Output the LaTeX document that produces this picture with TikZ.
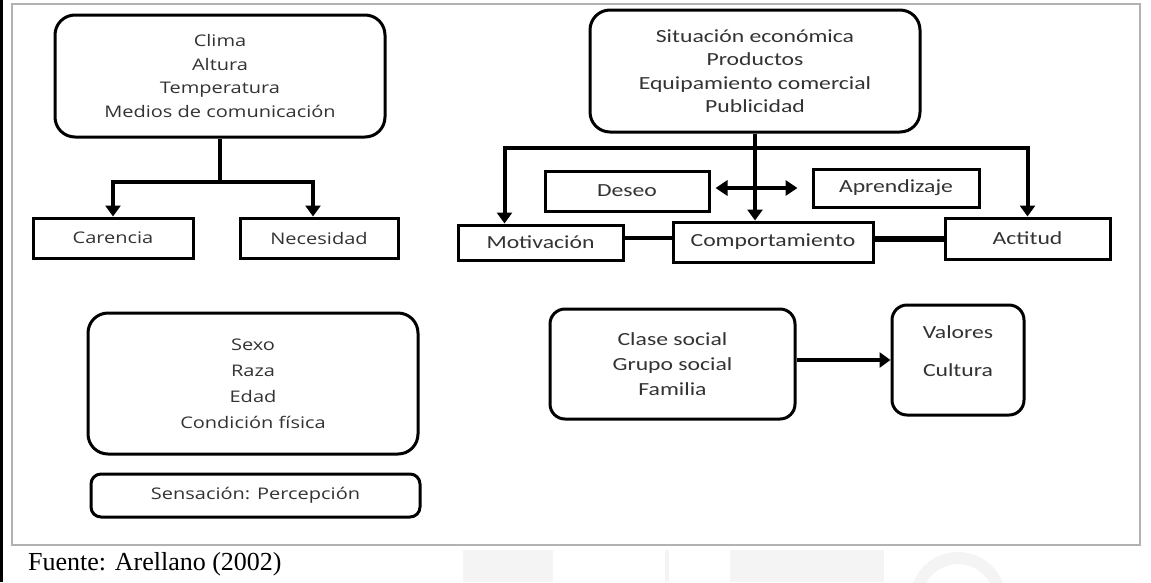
\documentclass[tikz,border=0pt]{standalone}
\usepackage{fontspec}
\setmainfont{Liberation Serif}
\newfontfamily\lfont[FakeStretch=1.25]{Open Sans}
\newfontfamily\rfont[FakeStretch=1.28]{Carlito}
\usetikzlibrary{arrows.meta}

\begin{document}
\begin{tikzpicture}[x=1pt,y=-1pt,
  txt/.style={text=black!80, align=center, inner sep=0pt},
  ltxt/.style={txt, font=\lfont\fontsize{16}{23.5}\selectfont},
  rtxt/.style={txt, font=\rfont\fontsize{18.5}{23.5}\selectfont},
  rbox/.style={draw=black, line width=3pt, rounded corners=20pt},
  sbox/.style={draw=black, line width=3pt},
  conn/.style={line width=4pt, draw=black},
  tip/.style={-{Triangle[width=15pt,length=11pt]}},
  dtip/.style={{Triangle[width=15pt,length=12pt]}-{Triangle[width=15pt,length=12pt]}},
]
\useasboundingbox (0,0) rectangle (1151,582);
\fill[white] (0,0) rectangle (1151,582);

% faint marks below the frame
\fill[gray!9] (463,550) rectangle (553,582);
\fill[gray!9] (665,550) rectangle (669,582);
\fill[gray!9] (730,550) rectangle (884,582);
\draw[gray!9, line width=12pt] (958,600) ellipse [x radius=42pt, y radius=42pt];

% frame
\fill[black] (0,0) rectangle (3,582);
\draw[gray!60, line width=2.5pt] (12,4) rectangle (1140,545);

% left column
\node[rbox, ltxt, minimum width=330pt, minimum height=122pt] (clima) at (220,76)
  {Clima\\Altura\\Temperatura\\Medios de comunicación};
\node[sbox, ltxt, minimum width=160pt, minimum height=40pt] (carencia) at (113,238) {Carencia};
\node[sbox, ltxt, minimum width=158pt, minimum height=40pt] (necesidad) at (319,238) {Necesidad};

\node[rbox, txt, font=\lfont\fontsize{16}{26}\selectfont, minimum width=330pt, minimum height=141pt] (sexo) at (253,383.5)
  {Sexo\\Raza\\Edad\\Condición física};
\node[rbox, ltxt, rounded corners=10pt, minimum width=329pt, minimum height=43pt] (sensa) at (255.5,495.5)
  {Sensación: Percepción};

% right column
\node[rbox, rtxt, minimum width=330pt, minimum height=122pt] (econ) at (755,71)
  {Situación económica\\Productos\\Equipamiento comercial\\Publicidad};
\node[sbox, rtxt, minimum width=164pt, minimum height=40pt] (deseo) at (627,191) {Deseo};
\node[sbox, rtxt, minimum width=166pt, minimum height=38pt] (aprend) at (896,188) {Aprendizaje};
\node[sbox, rtxt, minimum width=165pt, minimum height=35pt] (motiv) at (540.5,242.5) {Motivación};
\node[sbox, rtxt, minimum width=200pt, minimum height=40pt] (comp) at (773,242) {Comportamiento};
\node[sbox, rtxt, minimum width=165pt, minimum height=41pt] (actitud) at (1027.5,238.5) {Actitud};

\node[rbox, rtxt, rounded corners=15pt, font=\rfont\fontsize{18.5}{25}\selectfont, minimum width=245pt, minimum height=110pt] (clase) at (672.5,364)
  {Clase social\\Grupo social\\Familia};
\node[rbox, rounded corners=15pt, minimum width=132pt, minimum height=110pt] (valores) at (958,360) {};
\node[rtxt] (valtxt) at (958,351) {Valores\\[14.5pt]Cultura};

% connectors, left tree
\coordinate (csplit) at (220,182);
\draw[conn] (clima.south) -- (csplit);
\draw[conn, tip] (csplit) -| (carencia.north);
\draw[conn, tip] (csplit) -| ([xshift=-6pt]necesidad.north);

% connectors, right tree
\coordinate (ey) at (0,148);
\coordinate (esplit) at (econ.south |- ey);
\draw[conn, tip] (econ.south) -- (econ.south |- comp.north);
\draw[conn, tip] (esplit) -| ([xshift=-36pt]motiv.north);
\draw[conn, tip] (esplit) -| (actitud.north);
\draw[conn, dtip] ([xshift=5pt,yshift=3pt]deseo.east) -- ([xshift=-14pt]aprend.west);
\draw[conn] ([yshift=4.5pt]motiv.east) -- ([yshift=4pt]comp.west);
\draw[conn, line width=6pt] (comp.east |- actitud.west) -- (actitud.west);
\draw[conn, line width=3.5pt, tip] (clase.east |- valores.west) -- (valores.west);

% source line
\node[anchor=base west, inner sep=0pt, font=\fontsize{26}{30}\selectfont] (fuente) at (28,570) {Fuente: Arellano (2002)};
\end{tikzpicture}
\end{document}
